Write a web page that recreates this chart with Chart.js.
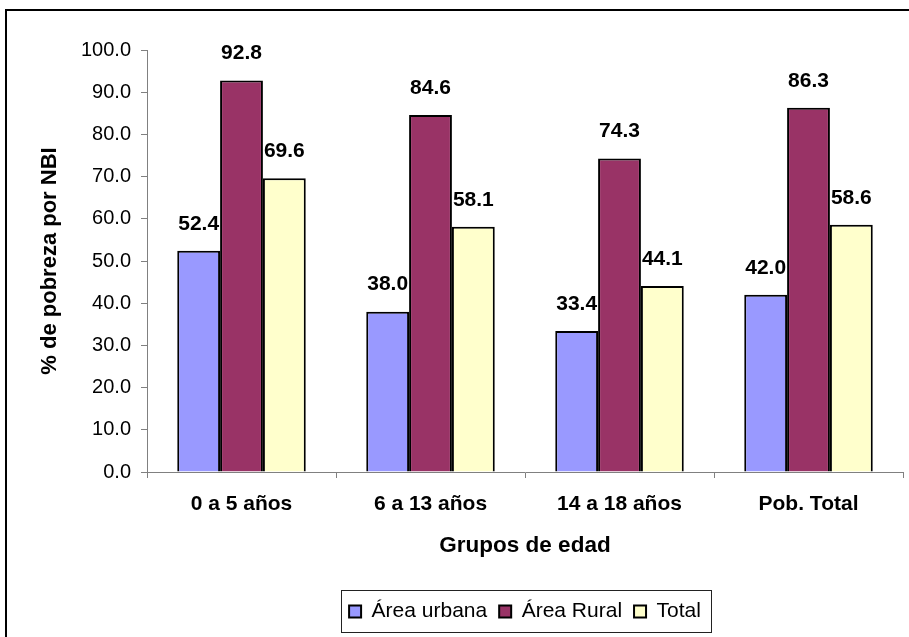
<!DOCTYPE html>
<html>
<head>
<meta charset="utf-8">
<script src="https://cdn.jsdelivr.net/npm/chart.js@4/dist/chart.umd.min.js"></script>
<style>
  html, body { margin: 0; padding: 0; background: #fff; }
  #c { display: block; }
</style>
</head>
<body>
<canvas id="c" width="909" height="637"></canvas>
<script>
// Poverty by unmet basic needs (NBI), by age group and area
const categories = ['0 a 5 años', '6 a 13 años', '14 a 18 años', 'Pob. Total'];
const seriesNames = ['Área urbana', 'Área Rural', 'Total'];
const urbana = [52.4, 38.0, 33.4, 42.0];
const rural = [92.8, 84.6, 74.3, 86.3];
const total = [69.6, 58.1, 44.1, 58.6];
const yTicks = [0, 10, 20, 30, 40, 50, 60, 70, 80, 90, 100];

const FONT = '"Liberation Sans", Arial, Helvetica, sans-serif';

// White page with the outer frame of the chart object
const framePlugin = {
  id: 'frame',
  beforeDraw(chart) {
    const ctx = chart.ctx;
    ctx.save();
    ctx.fillStyle = '#fff';
    ctx.fillRect(0, 0, chart.width, chart.height);
    ctx.strokeStyle = '#000';
    ctx.lineWidth = 2;
    ctx.strokeRect(6, 10, 1000, 1000);
    ctx.restore();
  }
};

// Value labels above each bar
const valueLabels = {
  id: 'valueLabels',
  afterDatasetsDraw(chart) {
    const ctx = chart.ctx;
    ctx.save();
    ctx.font = 'bold 21px ' + FONT;
    ctx.fillStyle = '#000';
    ctx.textAlign = 'center';
    ctx.textBaseline = 'middle';
    chart.data.datasets.forEach((ds, i) => {
      const meta = chart.getDatasetMeta(i);
      meta.data.forEach((bar, j) => {
        ctx.fillText(ds.data[j].toFixed(1), bar.x, bar.y - 27);
      });
    });
    ctx.restore();
  }
};

// Box around the legend entries
const legendBox = {
  id: 'legendBox',
  afterDraw(chart) {
    const lg = chart.legend;
    if (!lg || !lg.legendHitBoxes || !lg.legendHitBoxes.length) return;
    const hb = lg.legendHitBoxes;
    const left = Math.min(...hb.map(h => h.left)) - 8;
    const right = Math.max(...hb.map(h => h.left + h.width)) + 10;
    const top = hb[0].top - 11;
    const bottom = hb[0].top + hb[0].height + 10;
    const ctx = chart.ctx;
    ctx.save();
    ctx.strokeStyle = '#222';
    ctx.lineWidth = 1;
    ctx.strokeRect(Math.round(left) + 0.5, Math.round(top) + 0.5, Math.round(right - left), Math.round(bottom - top));
    ctx.restore();
  }
};

new Chart(document.getElementById('c'), {
  type: 'bar',
  data: {
    labels: categories,
    datasets: [
      { label: seriesNames[0], data: urbana, backgroundColor: '#9999FF' },
      { label: seriesNames[1], data: rural, backgroundColor: '#993366' },
      { label: seriesNames[2], data: total, backgroundColor: '#FFFFCC' }
    ].map(d => Object.assign(d, {
      borderColor: '#000',
      borderWidth: 2,
      categoryPercentage: 0.68,
      barPercentage: 1.0
    }))
  },
  options: {
    responsive: false,
    devicePixelRatio: 1,
    animation: false,
    layout: { padding: { left: 0, right: 6, top: 50, bottom: 5 } },
    plugins: {
      legend: {
        position: 'bottom',
        fullSize: false,
        labels: {
          boxWidth: 12,
          boxHeight: 12,
          padding: 12,
          color: '#000',
          font: { family: FONT, size: 21 }
        }
      },
      tooltip: { enabled: false }
    },
    scales: {
      x: {
        afterFit(scale) { scale.height = 117; },
        grid: {
          offset: true,
          drawOnChartArea: false,
          drawTicks: true,
          tickLength: 6,
          color: '#808080'
        },
        border: { color: '#808080', width: 1 },
        ticks: {
          color: '#000',
          padding: 14,
          font: { family: FONT, size: 21, weight: 'bold' }
        },
        title: {
          display: true,
          text: 'Grupos de edad',
          color: '#000',
          font: { family: FONT, size: 22.5, weight: 'bold' },
          padding: { top: 0, bottom: 30 }
        }
      },
      y: {
        min: 0,
        max: 100,
        afterFit(scale) { scale.width = 147; },
        afterBuildTicks(scale) { scale.ticks = yTicks.map(v => ({ value: v })); },
        grid: {
          drawOnChartArea: false,
          drawTicks: true,
          tickLength: 6,
          color: '#808080'
        },
        border: { color: '#808080', width: 1 },
        ticks: {
          color: '#000',
          padding: 10,
          font: { family: FONT, size: 20 },
          callback: v => Number(v).toFixed(1)
        },
        title: {
          display: true,
          text: '% de pobreza por NBI',
          color: '#000',
          font: { family: FONT, size: 22, weight: 'bold' },
          padding: { top: 37, bottom: 0 }
        }
      }
    }
  },
  plugins: [framePlugin, valueLabels, legendBox]
});
</script>
</body>
</html>
